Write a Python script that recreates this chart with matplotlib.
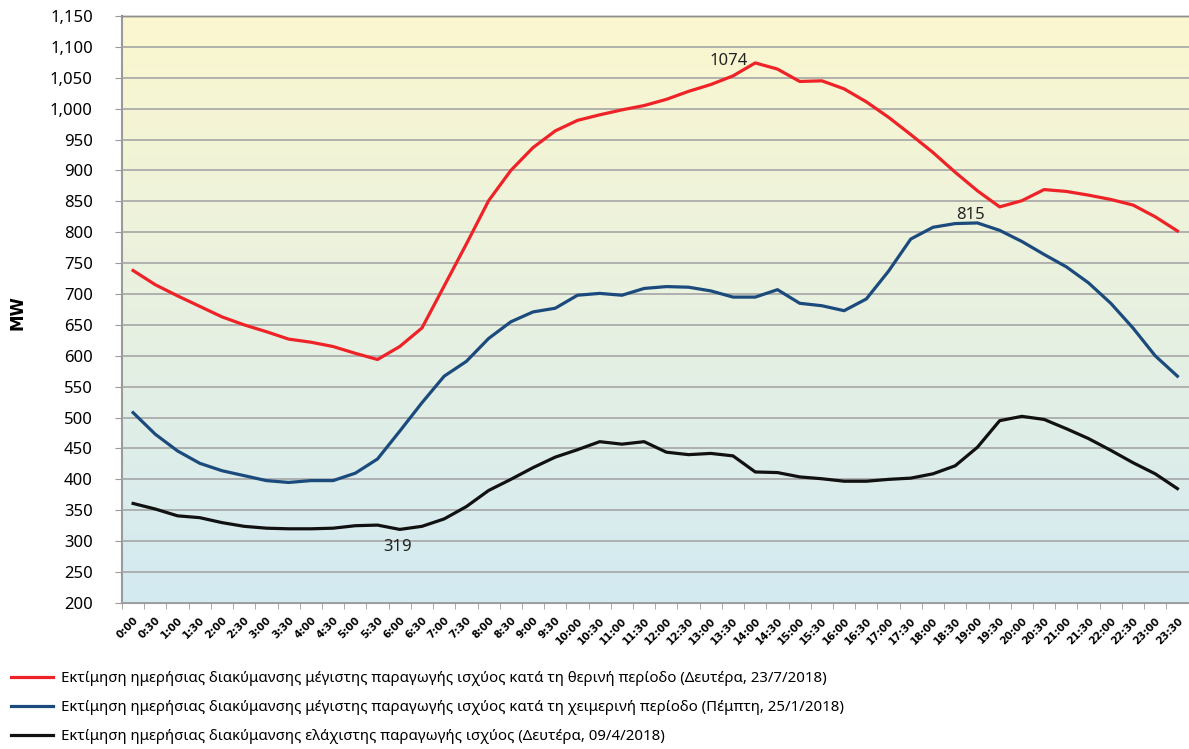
import numpy as np
import matplotlib.pyplot as plt
from matplotlib.colors import LinearSegmentedColormap
from matplotlib.ticker import FuncFormatter, MultipleLocator

plt.rcParams['font.family'] = ['Noto Sans', 'DejaVu Sans']

# half-hour time slots
times = [f"{h}:{m:02d}" for h in range(24) for m in (0, 30)]

# summer maximum (Monday 23/7/2018)
summer_max = [738, 715, 697, 680, 663, 650, 639, 627, 622, 615, 604, 594,
              615, 645, 713, 781, 851, 900, 937, 964, 981, 990, 998, 1005,
              1015, 1028, 1039, 1053, 1074, 1064, 1044, 1045, 1032, 1011, 986, 958,
              929, 897, 867, 841, 851, 869, 866, 860, 853, 844, 825, 802]

# winter maximum (Thursday 25/1/2018)
winter_max = [508, 473, 446, 426, 414, 406, 398, 395, 398, 398, 410, 433,
              478, 524, 567, 591, 628, 655, 671, 677, 698, 701, 698, 709,
              712, 711, 705, 695, 695, 707, 685, 681, 673, 692, 737, 789,
              808, 814, 815, 803, 785, 764, 744, 718, 685, 645, 600, 567]

# minimum (Monday 09/4/2018)
minimum = [361, 352, 341, 338, 330, 324, 321, 320, 320, 321, 325, 326,
           319, 324, 336, 356, 382, 400, 419, 436, 448, 461, 457, 461,
           444, 440, 442, 438, 412, 411, 404, 401, 397, 397, 400, 402,
           409, 422, 452, 495, 502, 497, 482, 466, 447, 427, 409, 385]

labels = [
    "Εκτίμηση ημερήσιας διακύμανσης μέγιστης παραγωγής ισχύος κατά τη θερινή περίοδο (Δευτέρα, 23/7/2018)",
    "Εκτίμηση ημερήσιας διακύμανσης μέγιστης παραγωγής ισχύος κατά τη χειμερινή περίοδο (Πέμπτη, 25/1/2018)",
    "Εκτίμηση ημερήσιας διακύμανσης ελάχιστης παραγωγής ισχύος (Δευτέρα, 09/4/2018)",
]

fig = plt.figure(figsize=(11.89, 7.49), dpi=100)
ax = fig.add_axes([0.1026, 0.195, 0.897, 0.7837])

x = np.arange(len(times))
ymin, ymax = 200, 1150

# background gradient, yellow on top to light blue at the bottom
cmap = LinearSegmentedColormap.from_list(
    "bg", [(0.0, "#d3eaf2"), (0.45, "#e6f0e2"), (1.0, "#fbf7cf")])
grad = np.linspace(0, 1, 256).reshape(-1, 1)
ax.imshow(grad, cmap=cmap, aspect='auto', origin='lower',
          extent=(-0.5, len(times) - 0.5, ymin, ymax), zorder=0)

ax.plot(x, summer_max, color='#ee2227', lw=2.3, label=labels[0], zorder=3)
ax.plot(x, winter_max, color='#1b4a7c', lw=2.3, label=labels[1], zorder=3)
ax.plot(x, minimum, color='#111111', lw=2.3, label=labels[2], zorder=3)

ax.set_xlim(-0.5, len(times) - 0.5)
ax.set_ylim(ymin, ymax)

ax.yaxis.set_major_locator(MultipleLocator(50))
ax.yaxis.set_major_formatter(FuncFormatter(lambda v, p: f"{int(v):,}"))
ax.grid(axis='y', color='#a6a6a6', lw=1.2, zorder=1)
ax.set_axisbelow(False)

ax.set_xticks(x)
ax.set_xticklabels(times, rotation=45, ha='right', va='top',
                   rotation_mode='anchor', fontsize=7.5, fontweight='bold',
                   family=['DejaVu Sans'])
ax.set_xticks(np.arange(-0.5, len(times)), minor=True)
ax.tick_params(axis='x', which='major', length=0, pad=9)
ax.tick_params(axis='x', which='minor', length=4, color='#9a9a9a')
ax.tick_params(axis='y', length=5, color='#9a9a9a', labelsize=12, pad=16)

ax.spines['right'].set_visible(False)
ax.spines['top'].set_color('#222222')
ax.spines['top'].set_linewidth(1.0)
ax.spines['left'].set_color('#9a9a9a')
ax.spines['left'].set_linewidth(1.5)
ax.spines['bottom'].set_color('#9a9a9a')
ax.spines['bottom'].set_linewidth(1.5)

fig.text(18 / 1189, 1 - 313 / 749, 'MW', rotation=90, ha='center', va='center',
         fontsize=12, fontweight='bold', family=['DejaVu Sans'])

# peak / trough annotations
i_peak = int(np.argmax(summer_max))
ax.annotate(str(summer_max[i_peak]), (x[i_peak], summer_max[i_peak]),
            xytext=(-19, 1.5), textcoords='offset points', ha='center',
            va='center', fontsize=12, color='#222222')
i_w = int(np.argmax(winter_max))
ax.annotate(str(winter_max[i_w]), (x[i_w], winter_max[i_w]),
            xytext=(-5, 6), textcoords='offset points', ha='center',
            va='center', fontsize=12, color='#222222')
i_min = int(np.argmin(minimum))
ax.annotate(str(minimum[i_min]), (x[i_min], minimum[i_min]),
            xytext=(-1.5, -13), textcoords='offset points', ha='center',
            va='center', fontsize=12, color='#222222')

fig.legend(loc='upper left', bbox_to_anchor=(-0.002, 0.122), frameon=False,
           fontsize=10.8, handlelength=2.8, handletextpad=0.5,
           labelspacing=0.93)

fig.savefig('out.png', dpi=100)
